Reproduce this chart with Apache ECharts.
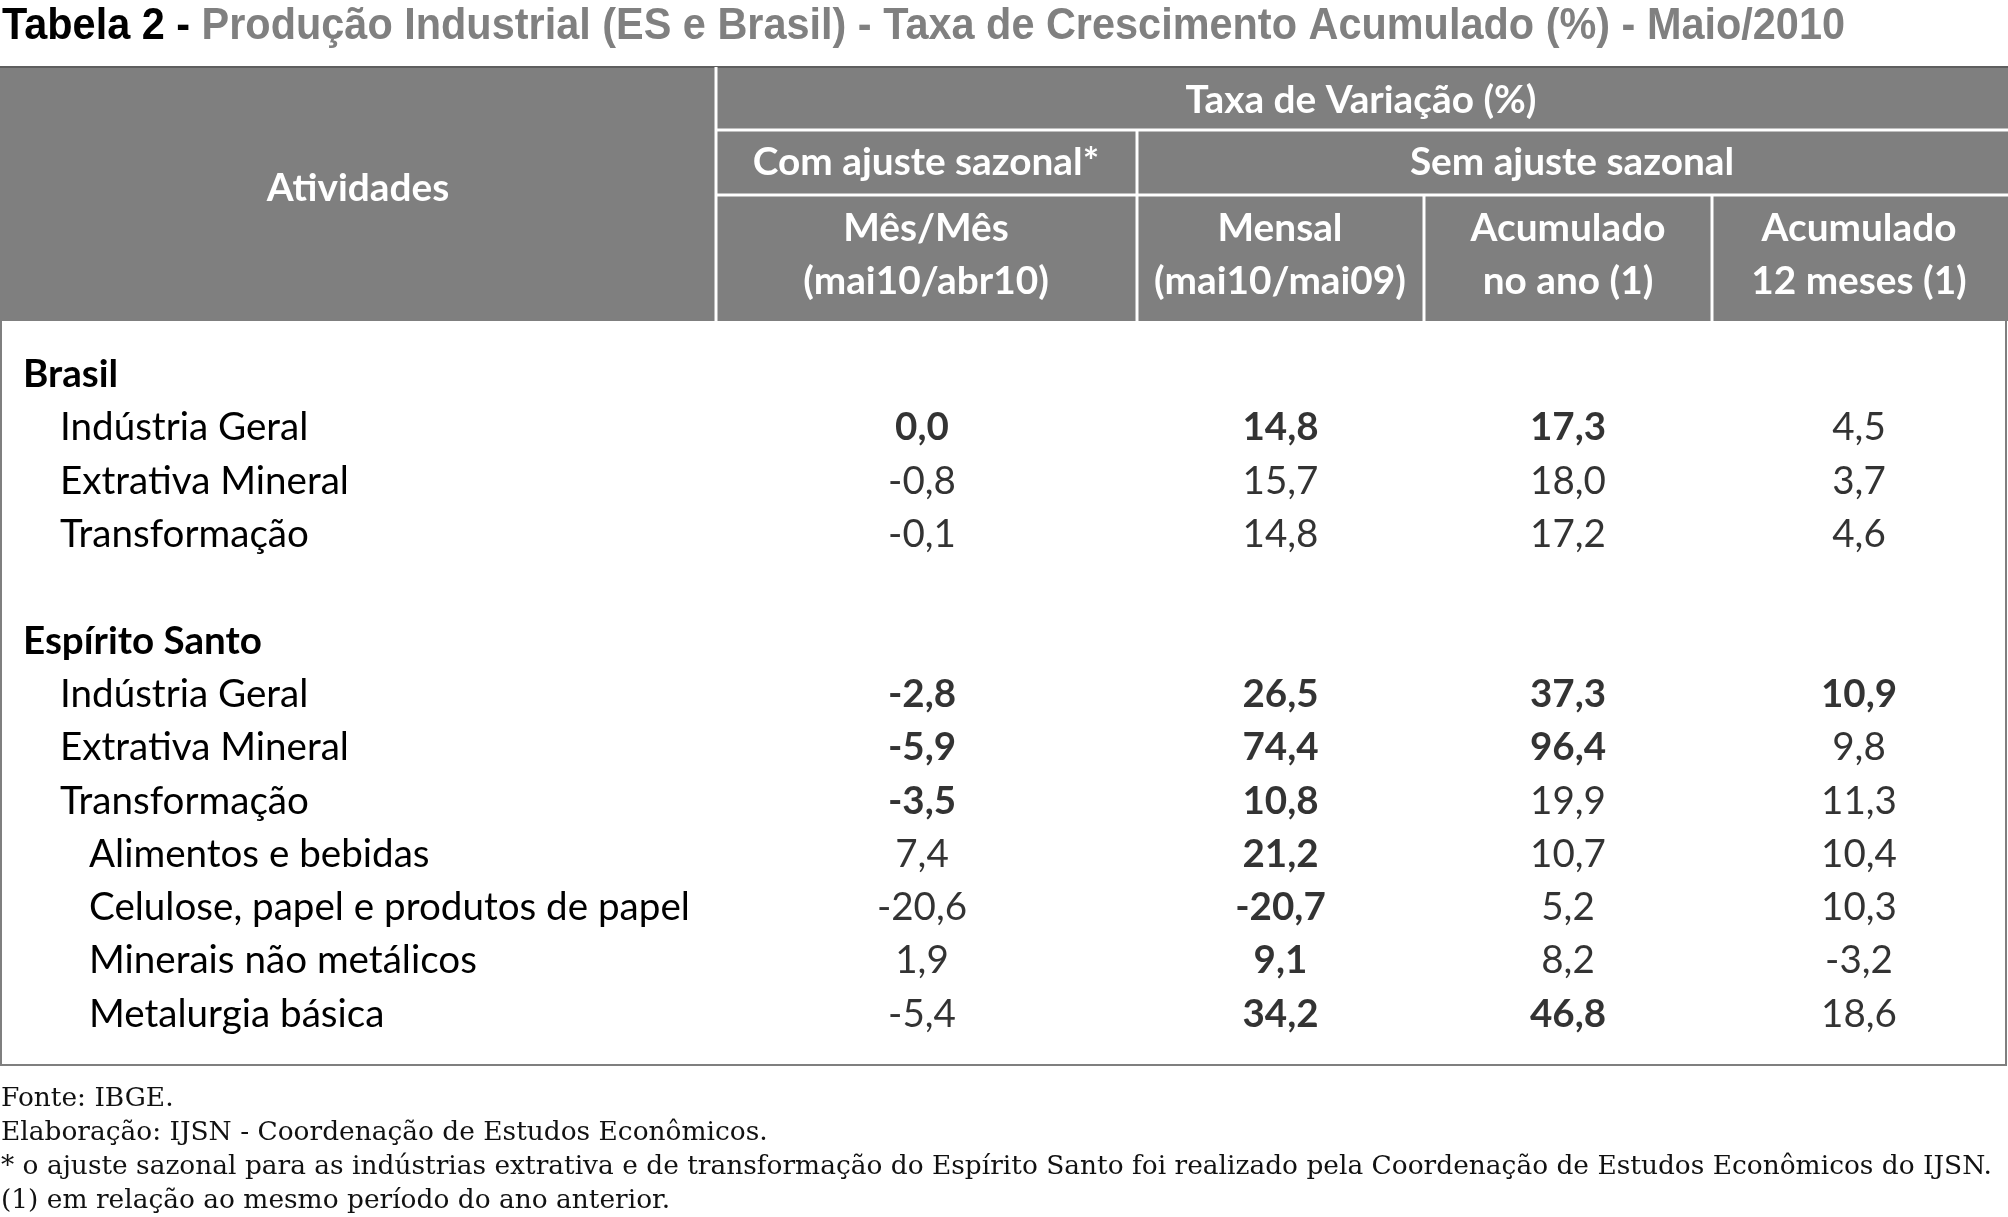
<!DOCTYPE html>
<html><head><meta charset="utf-8">
<script src="https://cdn.jsdelivr.net/npm/echarts@6/dist/echarts.min.js"></script>
<style>html,body{margin:0;padding:0;background:#fff}#c{width:2008px;height:1217px}</style>
</head><body><div id="c"></div>
<script>
// ---------- data ----------
const titleLead = 'Tabela 2 -';
const titleRest = 'Produção Industrial (ES e Brasil) - Taxa de Crescimento Acumulado (%) - Maio/2010';
const headerStub = 'Atividades';
const headerTop = 'Taxa de Variação (%)';
const headerGroups = ['Com ajuste sazonal*', 'Sem ajuste sazonal'];
const columnHeads = [
  ['Mês/Mês', '(mai10/abr10)'],
  ['Mensal', '(mai10/mai09)'],
  ['Acumulado', 'no ano (1)'],
  ['Acumulado', '12 meses (1)']
];
const rowLabels = ['Brasil', 'Indústria Geral', 'Extrativa Mineral', 'Transformação', '',
  'Espírito Santo', 'Indústria Geral', 'Extrativa Mineral', 'Transformação',
  'Alimentos e bebidas', 'Celulose, papel e produtos de papel', 'Minerais não metálicos', 'Metalurgia básica'];
const rowLevels = [0, 1, 1, 1, -1, 0, 1, 1, 1, 2, 2, 2, 2];
const mesMes   = [null, 0.0, -0.8, -0.1, null, null, -2.8, -5.9, -3.5, 7.4, -20.6, 1.9, -5.4];
const mensal   = [null, 14.8, 15.7, 14.8, null, null, 26.5, 74.4, 10.8, 21.2, -20.7, 9.1, 34.2];
const acumAno  = [null, 17.3, 18.0, 17.2, null, null, 37.3, 96.4, 19.9, 10.7, 5.2, 8.2, 46.8];
const acum12   = [null, 4.5, 3.7, 4.6, null, null, 10.9, 9.8, 11.3, 10.4, 10.3, -3.2, 18.6];
const boldMesMes  = [0, 1, 0, 0, 0, 0, 1, 1, 1, 0, 0, 0, 0];
const boldMensal  = [0, 1, 0, 0, 0, 0, 1, 1, 1, 1, 1, 1, 1];
const boldAcumAno = [0, 1, 0, 0, 0, 0, 1, 1, 0, 0, 0, 0, 1];
const boldAcum12  = [0, 0, 0, 0, 0, 0, 1, 0, 0, 0, 0, 0, 0];
const footnotes = [
  'Fonte: IBGE.',
  'Elaboração: IJSN - Coordenação de Estudos Econômicos.',
  '* o ajuste sazonal para as indústrias extrativa e de transformação do Espírito Santo foi realizado pela Coordenação de Estudos Econômicos do IJSN.',
  '(1) em relação ao mesmo período do ano anterior.'
];

// ---------- layout helpers ----------
const cv = document.createElement('canvas').getContext('2d');
function measure(font, text) { cv.font = font; return cv.measureText(text).width; }
const bodyFam = 'Lato';
const bodySize = 36 * 601 / measure('36px Lato', 'Celulose, papel e produtos de papel');
const headSize = 36 * 351 / measure('bold 36px Lato', headerTop);
const titleSize = 44;
const titleFont = 'bold ' + titleSize + 'px "Liberation Sans"';
const titleScale = 1843 / measure(titleFont, titleLead + ' ' + titleRest);
const footSize = 26;
const footFont = footSize + 'px "DejaVu Serif"';
const footScale = 1991 / measure(footFont, footnotes[2]);

const fmt = v => v.toFixed(1).replace('.', ',');
const GRAY = '#7f7f7f';
const colBounds = [[0, 716], [711, 1133], [1137, 1424], [1424, 1712], [1712, 2006]];
const bodyTop = 348, bodyH = 693;

const valueCols = [mesMes, mensal, acumAno, acum12];
const boldCols = [boldMesMes, boldMensal, boldAcumAno, boldAcum12];

function txt(text, x, y, font, fill, align, scaleX) {
  return {
    type: 'text', x: x, y: y, scaleX: scaleX || 1, silent: true,
    style: { text: text, x: 0, y: 0, font: font, fill: fill,
      align: align || 'center', textAlign: align || 'center',
      verticalAlign: 'middle', textVerticalAlign: 'middle' }
  };
}
function line(x1, y1, x2, y2, color, w) {
  return { type: 'line', silent: true, shape: { x1: x1, y1: y1, x2: x2, y2: y2 },
    style: { stroke: color, lineWidth: w } };
}

const hFont = 'bold ' + headSize + 'px Lato';
const graphics = [
  { type: 'rect', silent: true, shape: { x: 0, y: 67, width: 2008, height: 254 }, style: { fill: GRAY } },
  { type: 'rect', silent: true, shape: { x: 1, y: 67, width: 2005, height: 998 }, style: { fill: 'none', stroke: GRAY, lineWidth: 2 } },
  line(0, 67, 2008, 67, '#5e5e5e', 2),
  line(716, 67, 716, 321, '#fff', 3),
  line(716, 130, 2008, 130, '#fff', 3),
  line(716, 195, 2008, 195, '#fff', 3),
  line(1137, 130, 1137, 321, '#fff', 3),
  line(1424, 195, 1424, 321, '#fff', 3),
  line(1712, 195, 1712, 321, '#fff', 3),
  txt(headerStub, 358, 188, hFont, '#fff'),
  txt(headerTop, 1361, 100, hFont, '#fff'),
  txt(headerGroups[0], 926, 162, hFont, '#fff'),
  txt(headerGroups[1], 1572, 162, hFont, '#fff')
];
const headCenters = [926, 1280, 1568, 1859];
columnHeads.forEach((h, i) => {
  graphics.push(txt(h[0], headCenters[i], 228, hFont, '#fff'));
  graphics.push(txt(h[1], headCenters[i], 281, hFont, '#fff'));
});
// title
const leadW = measure(titleFont, titleLead + ' ') * titleScale;
graphics.push(txt(titleLead, 2, 27, titleFont, '#000', 'left', titleScale));
graphics.push(txt(titleRest, 2 + leadW, 27, titleFont, '#808080', 'left', titleScale));
// footnotes
const footY = [1099, 1133, 1167, 1201];
footnotes.forEach((f, i) => graphics.push(txt(f, 1, footY[i], footFont, '#111', 'left', footScale)));

// ---------- chart ----------
const grids = colBounds.map(b => ({ left: b[0], width: b[1] - b[0], top: bodyTop, height: bodyH }));
const xAxes = colBounds.map((b, i) => ({ type: 'category', gridIndex: i, data: ['c'], show: false }));
const yAxes = colBounds.map((b, i) => ({
  type: 'category', gridIndex: i, data: rowLabels, inverse: true,
  show: i === 0,
  axisLine: { show: false }, axisTick: { show: false }, splitLine: { show: false },
  axisLabel: i === 0 ? {
    inside: true, margin: 0, interval: 0,
    formatter: (val, idx) => {
      const lv = rowLevels[idx];
      if (lv < 0) return '';
      return '{' + ['h', 'a', 'b'][lv] + '|' + val + '}';
    },
    rich: {
      h: { fontFamily: bodyFam, fontSize: bodySize, fontWeight: 'bold', color: '#000', padding: [0, 0, 0, 20] },
      a: { fontFamily: bodyFam, fontSize: bodySize, color: '#000', padding: [0, 0, 0, 57] },
      b: { fontFamily: bodyFam, fontSize: bodySize, color: '#000', padding: [0, 0, 0, 86] }
    }
  } : { show: false }
}));

const series = valueCols.map((vals, c) => ({
  type: 'scatter', xAxisIndex: c + 1, yAxisIndex: c + 1, silent: true,
  symbolSize: 1, itemStyle: { color: 'rgba(0,0,0,0)' },
  data: vals.map((v, i) => v === null ? null : {
    value: [0, i, v],
    label: { fontWeight: boldCols[c][i] ? 'bold' : 'normal' }
  }).filter(d => d !== null),
  label: {
    show: true, position: 'inside', color: '#000',
    fontFamily: bodyFam, fontSize: bodySize,
    formatter: p => fmt(p.value[2])
  }
}));

const chart = echarts.init(document.getElementById('c'), null, { renderer: 'canvas' });
chart.setOption({
  animation: false,
  backgroundColor: '#fff',
  grid: grids, xAxis: xAxes, yAxis: yAxes, series: series,
  graphic: { elements: graphics }
});
</script></body></html>
